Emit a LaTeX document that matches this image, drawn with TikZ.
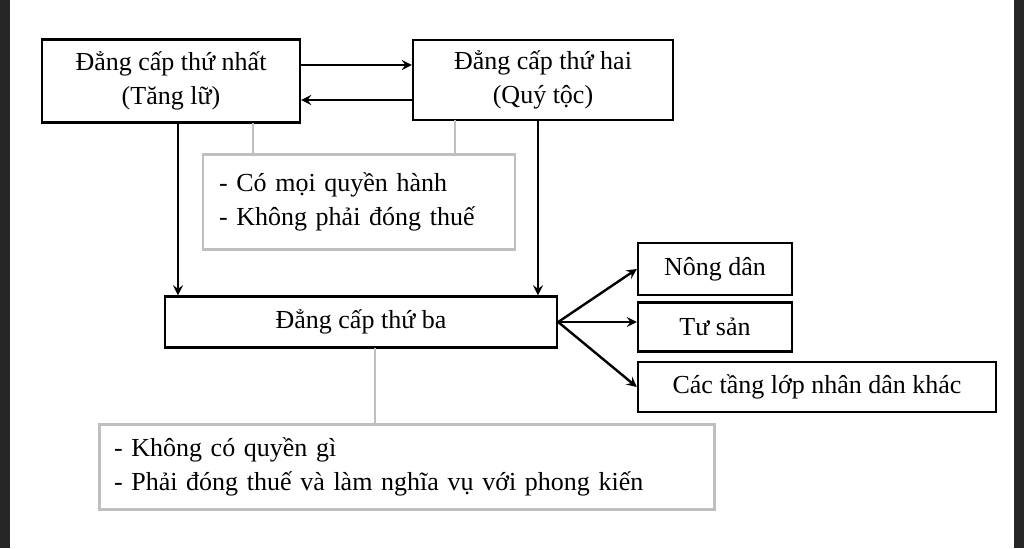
\documentclass[tikz,border=0pt]{standalone}
\usepackage{fontspec}
\setmainfont{Liberation Serif}
\usetikzlibrary{positioning}
\begin{document}
\begin{tikzpicture}[x=0.5pt,y=-0.5pt,
		box/.style={draw,line width=1.2pt,inner sep=0pt,font=\fontsize{13}{17}\selectfont,align=center},
		greybox/.style={draw=black!25,line width=1.2pt,inner sep=0pt,font=\fontsize{13}{17}\selectfont,align=left},
		link/.style={draw=black!25,line width=1.2pt},
		arr/.style={->,>=stealth,line width=1.2pt}]
	\fill[white] (0,0) rectangle (1024,548);
	\fill[black!85] (0,0) rectangle (10,548);
	\fill[black!85] (1014,0) rectangle (1024,548);
	% upper boxes
	\node[box,minimum width=129pt,minimum height=41.5pt]	(first)	at (171,81)	{Đẳng cấp thứ nhất\\(Tăng lữ)};
	\node[box,minimum width=130pt,minimum height=40pt]		(second)	at (543,80)	{Đẳng cấp thứ hai\\(Quý tộc)};
	\node[greybox,minimum width=156pt,minimum height=47.5pt,text width=140pt] (rights) at (359,202) {- Có mọi quyền hành\\- Không phải đóng thuế};
	% third estate
	\node[box,minimum width=196pt,minimum height=25.5pt]	(third)	at (361,322)	{Đẳng cấp thứ ba};
	\node[box,minimum width=77pt,minimum height=26pt]		(farmer)	at (715,269)	{Nông dân};
	\node[box,minimum width=77pt,minimum height=24.5pt]	(bourg)	at (715,327)	{Tư sản};
	\node[box,minimum width=179pt,minimum height=25pt]		(others)	at (817,387)	{Các tầng lớp nhân dân khác};
	\node[greybox,minimum width=307.5pt,minimum height=42.5pt,text width=293pt] (duties) at (407,467) {- Không có quyền gì\\- Phải đóng thuế và làm nghĩa vụ với phong kiến};

	\coordinate (c1) at (253,155);
	\coordinate (c2) at (455,155);
	\coordinate (c3) at (375,425);
	\draw[link] (253,123) -- (c1);
	\draw[link] (455,120) -- (c2);
	\draw[link] (375,348) -- (c3);

	\draw[arr] (first.east |- 0,65) -- (second.west |- 0,65);
	\draw[arr] (second.west |- 0,100) -- (first.east |- 0,100);
	\draw[arr] (first.south -| 178,0) -- (third.north -| 178,0);
	\draw[arr] (second.south -| 538,0) -- (third.north -| 538,0);
	\draw[arr] (third.east) -- (farmer.west);
	\draw[arr] (third.east) -- (bourg.west |- third.east);
	\draw[arr] (third.east) -- (others.west);
\end{tikzpicture}
\end{document}
